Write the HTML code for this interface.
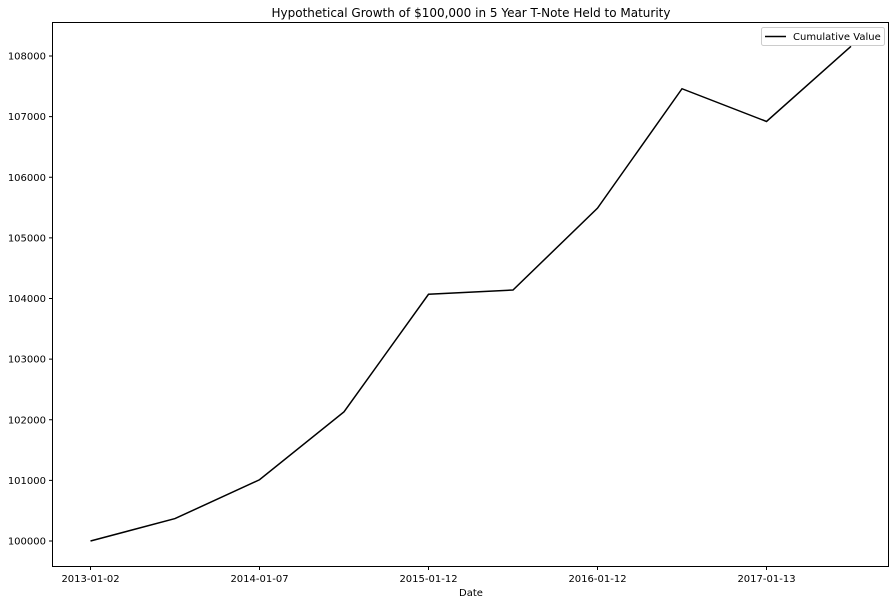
<!DOCTYPE html>
<html><head><meta charset="utf-8"><style>
body{margin:0;background:#fff;}
svg{display:block;font-family:"DejaVu Sans","Liberation Sans",sans-serif;}
</style></head><body>
<svg id="chart" width="896" height="604">
<text x="471" y="17" text-anchor="middle" font-size="12">Hypothetical Growth of $100,000 in 5 Year T-Note Held to Maturity</text>
<g id="yticks"></g>
<g id="xticks"></g>
<path id="line" fill="none" stroke="#000" stroke-width="1.5"></path>
<rect x="52.5" y="22.5" width="836" height="544" fill="none" stroke="#000" stroke-width="1"></rect>
<text x="471" y="596" text-anchor="middle" font-size="10">Date</text>
<g>
<rect x="761.5" y="27.5" width="123" height="18" rx="2" fill="#fff" stroke="#ccc"></rect>
<line x1="765" y1="36.5" x2="786" y2="36.5" stroke="#000" stroke-width="1.5"></line>
<text x="793" y="40" font-size="10">Cumulative Value</text>
</g>
</svg>
<script>
const dates=["2013-01-02","2013-07-05","2014-01-07","2014-07-09","2015-01-12","2015-07-13","2016-01-12","2016-07-13","2017-01-13","2017-07-14"];
const values=[100000,100370,101010,102130,104070,104140,105490,107460,106920,108160];
const yTicks=[100000,101000,102000,103000,104000,105000,106000,107000,108000];
const xTickLabels=["2013-01-02","2014-01-07","2015-01-12","2016-01-12","2017-01-13"];
const NS="http://www.w3.org/2000/svg";
function xPos(i){return 90.5+i*84.5;}
function yPos(v){return 541-(v-100000)*0.060625;}
const yg=document.getElementById('yticks');
yTicks.forEach(v=>{
 const y=yPos(v);
 const l=document.createElementNS(NS,'line');
 l.setAttribute('x1',49);l.setAttribute('x2',52.5);l.setAttribute('y1',y);l.setAttribute('y2',y);l.setAttribute('stroke','#000');
 
 
 yg.appendChild(l);
 const t=document.createElementNS(NS,'text');
 t.setAttribute('x',46);t.setAttribute('y',y+3.5);t.setAttribute('text-anchor','end');t.setAttribute('font-size','10');
 t.textContent=v;
 
 
 yg.appendChild(t);
});
const xg=document.getElementById('xticks');
xTickLabels.forEach(d=>{
 const i=dates.indexOf(d);const x=xPos(i);
 const l=document.createElementNS(NS,'line');
 l.setAttribute('x1',x);l.setAttribute('x2',x);l.setAttribute('y1',566.5);l.setAttribute('y2',570);l.setAttribute('stroke','#000');
 
 
 xg.appendChild(l);
 const t=document.createElementNS(NS,'text');
 t.setAttribute('x',x);t.setAttribute('y',582);t.setAttribute('text-anchor','middle');t.setAttribute('font-size','10');
 t.textContent=d;
 
 
 xg.appendChild(t);
});
document.getElementById('line').setAttribute('d',values.map((v,i)=>(i?'L':'M')+xPos(i)+' '+yPos(v)).join(' '));
</script>
</body></html>
